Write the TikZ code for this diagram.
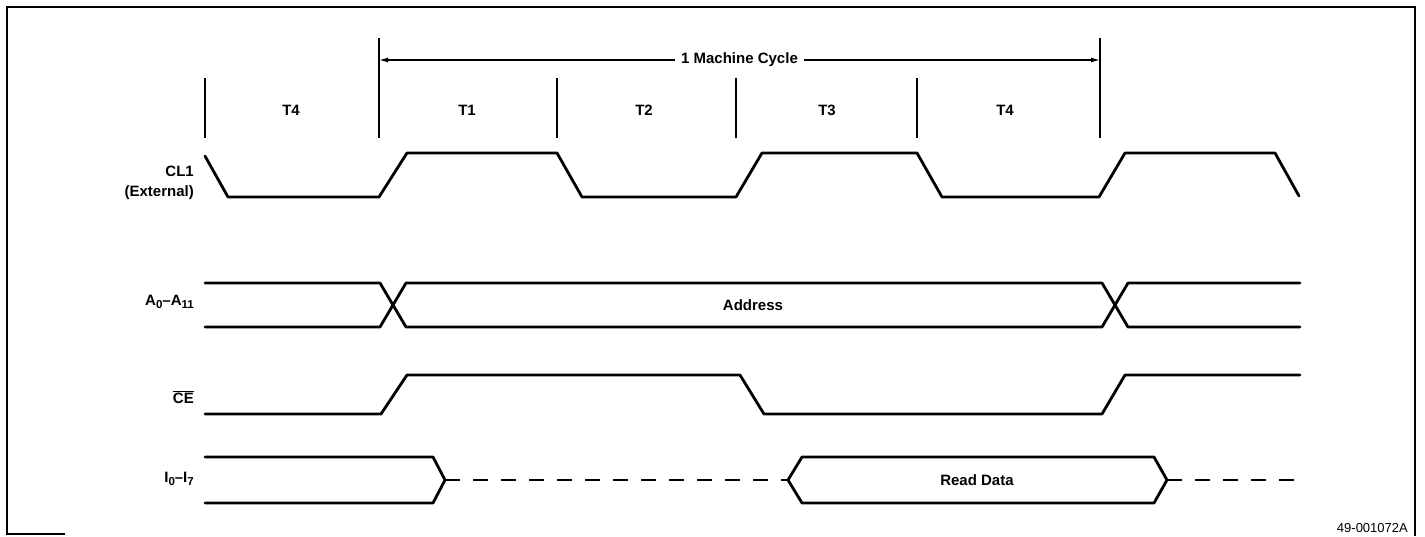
\documentclass[tikz,border=0pt]{standalone}
\usepackage{fontspec}
\setmainfont{Liberation Sans}
\usetikzlibrary{arrows.meta}
\newcommand{\sbs}[1]{\raisebox{-0.35ex}{\fontsize{11.5}{12}\selectfont #1}}
\begin{document}
\begin{tikzpicture}[x=1pt,y=-1pt,
  wave/.style={line width=2.8pt, line join=round, line cap=round},
  dashwave/.style={line width=2.8pt, line cap=butt, dash pattern=on 15pt off 13pt},
  tickline/.style={line width=1.2pt},
  lbl/.style={font=\bfseries\fontsize{15}{19.5}\selectfont, inner sep=0pt},
  siglbl/.style={lbl, anchor=east, align=right},
  framestyle/.style={line width=1.8pt}]
\useasboundingbox (0,0) rectangle (1425,536);
% frame
\draw[framestyle] (65,534) -- (7,534) -- (7,7) -- (1415,7) -- (1415,536);
% ticks
\foreach \n/\x in {a/205,c/557,d/736,e/917}{
  \coordinate (t\n top) at (\x,78);
  \coordinate (t\n bot) at (\x,138);
  \draw[tickline] (t\n top) -- (t\n bot);
}
\foreach \n/\x in {b/379,f/1100}{
  \coordinate (t\n top) at (\x,38);
  \coordinate (t\n bot) at (\x,138);
  \draw[tickline] (t\n top) -- (t\n bot);
}
\coordinate (mcL) at (379,60);
\coordinate (mcR) at (1100,60);
\draw[tickline, {Latex[length=9pt,width=5pt]}-{Latex[length=9pt,width=5pt]}] (mcL) -- node[lbl, fill=white, inner xsep=6pt, inner ysep=2pt] (mc) {1 Machine Cycle} (mcR);
% T labels
\node[lbl] (T4a) at (291,110) {T4};
\node[lbl] (T1) at (467,110) {T1};
\node[lbl] (T2) at (644,110) {T2};
\node[lbl] (T3) at (827,110) {T3};
\node[lbl] (T4b) at (1005,110) {T4};
% signal labels
\node[siglbl] (lcl1) at (194,183) {CL1\\(External)};
\node[siglbl] (laddr) at (194,302) {A\sbs{0}--A\sbs{11}};
\node[siglbl] (lce) at (194,397) {$\overline{\mbox{CE}}$};
\node[siglbl] (lio) at (194,479) {I\sbs{0}--I\sbs{7}};
% CL1
\draw[wave] (205,156)--(228,197)--(379,197)--(407,153)--(557,153)--(582,197)--(736,197)--(762,153)--(917,153)--(942,197)--(1099,197)--(1125,153)--(1275,153)--(1299,196);
% Address bus
\draw[wave] (205,283)--(380,283)--(406,327)--(1102,327)--(1128,283)--(1300,283);
\draw[wave] (205,327)--(380,327)--(406,283)--(1102,283)--(1128,327)--(1300,327);
\node[lbl] (addr) at (753,305) {Address};
% CE
\draw[wave] (205,414)--(381,414)--(407,375)--(740,375)--(764,414)--(1102,414)--(1125,375)--(1300,375);
% I0-I7
\draw[wave] (205,457)--(433,457)--(445,480)--(433,503)--(205,503);
\draw[dashwave] (445,480)--(788,480);
\draw[wave] (788,480)--(802,457)--(1154,457)--(1167,480)--(1154,503)--(802,503)--cycle;
\draw[dashwave] (1167,480)--(1300,480);
\node[lbl] (rd) at (977,480) {Read Data};
% figure number
\node[anchor=east, inner sep=0pt, font=\fontsize{13}{15}\selectfont] (fig) at (1408,528) {49-001072A};
\end{tikzpicture}
\end{document}
